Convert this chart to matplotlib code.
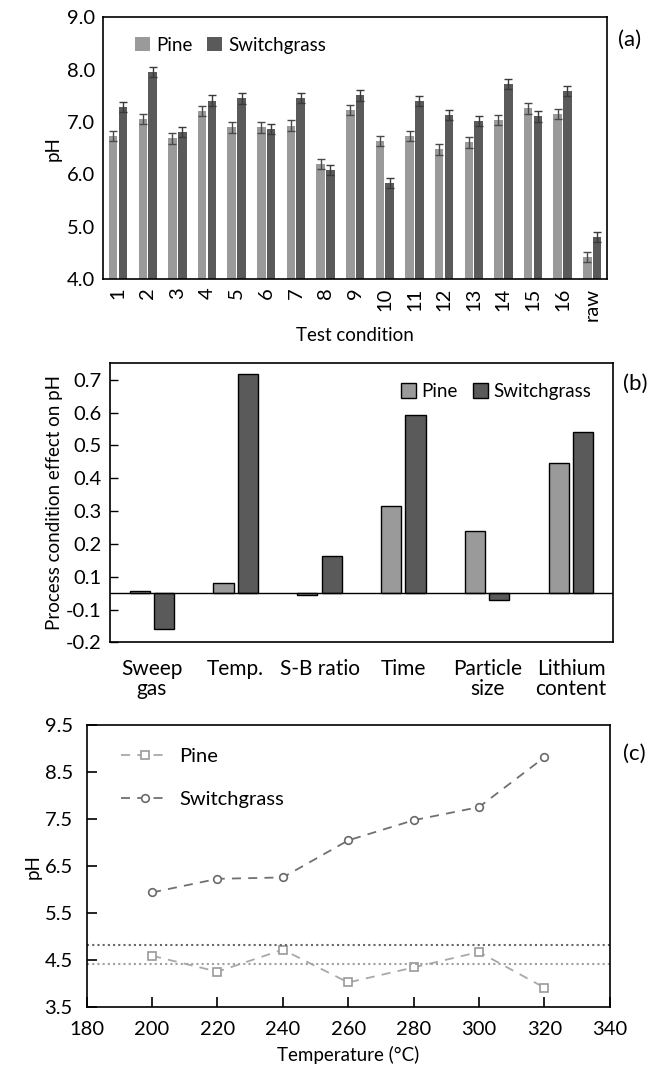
import matplotlib
matplotlib.use("Agg")
import matplotlib.pyplot as plt
import numpy as np

plt.rcParams['font.family'] = ['Lato', 'DejaVu Sans']
plt.rcParams['font.size'] = 12

# (a) pH of bio-oil per test condition
conditions = [str(i) for i in range(1, 17)] + ['raw']
pine_ph = [6.73, 7.06, 6.69, 7.21, 6.90, 6.90, 6.93, 6.20, 7.23, 6.64, 6.73, 6.48,
           6.61, 7.04, 7.26, 7.15, 4.42]
switch_ph = [7.29, 7.95, 6.81, 7.41, 7.45, 6.87, 7.46, 6.08, 7.51, 5.84, 7.40, 7.13,
             7.02, 7.73, 7.11, 7.59, 4.81]
pine_err = [0.1] * 17
switch_err = [0.1] * 17

# (b) process condition effects
factors = ['Sweep\ngas', 'Temp.', 'S-B ratio', 'Time', 'Particle\nsize', 'Lithium\ncontent']
pine_effect = [0.006, 0.032, -0.004, 0.266, 0.189, 0.396]
switch_effect = [-0.110, 0.666, 0.113, 0.542, -0.021, 0.492]
effect_ticks = [-0.15, -0.05, 0.05, 0.15, 0.25, 0.35, 0.45, 0.55, 0.65]
effect_ticklabels = ['-0.2', '-0.1', '0.1', '0.2', '0.3', '0.4', '0.5', '0.6', '0.7']

# (c) pH versus temperature
temps = [200, 220, 240, 260, 280, 300, 320]
pine_t = [4.59, 4.25, 4.72, 4.02, 4.34, 4.67, 3.91]
switch_t = [5.94, 6.23, 6.26, 7.05, 7.48, 7.76, 8.82]

PINE = '#9a9a9a'
SWITCH = '#5a5a5a'
TICK_FS = 14.5
LABEL_FS = 13.5
LEG_FS = 13.5

fig = plt.figure(figsize=(6.62, 10.78), dpi=100)

# ---------- panel (a) ----------
axa = fig.add_axes([0.156, 0.741, 0.761, 0.243])
x = np.arange(len(conditions))
w = 0.29
axa.bar(x - w / 2 - 0.02, pine_ph, w, color=PINE, yerr=pine_err,
        error_kw=dict(ecolor='#4a4a4a', capsize=3, elinewidth=1, capthick=1), label='Pine')
axa.bar(x + w / 2 + 0.02, switch_ph, w, color=SWITCH, yerr=switch_err,
        error_kw=dict(ecolor='#3a3a3a', capsize=3, elinewidth=1, capthick=1), label='Switchgrass')
axa.set_ylim(4.0, 9.0)
axa.set_xlim(-0.5, len(conditions) - 0.5)
axa.set_yticks(np.arange(4.0, 9.01, 1.0))
axa.set_yticklabels([f'{v:.1f}' for v in np.arange(4.0, 9.01, 1.0)], fontsize=TICK_FS)
axa.set_xticks(x)
axa.set_xticklabels(conditions, rotation=90, fontsize=TICK_FS)
axa.tick_params(length=0, pad=6)
axa.set_ylabel('pH', fontsize=LABEL_FS)
axa.set_xlabel('Test condition', fontsize=LABEL_FS, labelpad=5)
axa.legend(loc='upper left', frameon=False, ncol=2, fontsize=LEG_FS, handlelength=0.8,
           handleheight=0.8, handletextpad=0.3, columnspacing=0.8,
           bbox_to_anchor=(0.03, 0.99))
for s in axa.spines.values():
    s.set_linewidth(1.2)
fig.text(0.951, 0.963, '(a)', fontsize=16, ha='center', va='center')

# ---------- panel (b) ----------
axb = fig.add_axes([0.166, 0.404, 0.760, 0.259])
xb = np.arange(len(factors))
wb = 0.24
axb.bar(xb - wb / 2 - 0.025, pine_effect, wb, color=PINE, edgecolor='black',
        linewidth=1, label='Pine')
axb.bar(xb + wb / 2 + 0.025, switch_effect, wb, color=SWITCH, edgecolor='black',
        linewidth=1, label='Switchgrass')
axb.axhline(0, color='black', linewidth=1)
axb.set_ylim(-0.15, 0.70)
axb.set_xlim(-0.5, len(factors) - 0.5)
axb.set_yticks(effect_ticks)
axb.set_yticklabels(effect_ticklabels, fontsize=TICK_FS)
axb.set_xticks(xb)
axb.set_xticklabels(factors, fontsize=15, linespacing=1.0)
axb.tick_params(axis='y', direction='in', length=6, width=1, pad=6)
axb.tick_params(axis='x', length=0, pad=12)
axb.set_ylabel('Process condition effect on pH', fontsize=LABEL_FS, labelpad=2)
axb.legend(loc='upper right', frameon=False, ncol=2, fontsize=LEG_FS, handlelength=0.8,
           handleheight=0.8, handletextpad=0.3, columnspacing=0.8,
           bbox_to_anchor=(0.99, 0.99))
for s in axb.spines.values():
    s.set_linewidth(1.2)
fig.text(0.959, 0.644, '(b)', fontsize=16, ha='center', va='center')

# ---------- panel (c) ----------
axc = fig.add_axes([0.131, 0.066, 0.790, 0.261])
axc.plot(temps, pine_t, linestyle=(0, (5, 4)), color='#a8a8a8', linewidth=1.3,
         marker='s', markersize=5.5, markerfacecolor='white',
         markeredgecolor='#9a9a9a', markeredgewidth=1.2, label='Pine')
axc.plot(temps, switch_t, linestyle=(0, (5, 4)), color='#707070', linewidth=1.3,
         marker='o', markersize=5.5, markerfacecolor='white',
         markeredgecolor='#6a6a6a', markeredgewidth=1.2, label='Switchgrass')
axc.axhline(switch_ph[-1], color='#666666', linestyle=(0, (1, 1.5)), linewidth=1.5)
axc.axhline(pine_ph[-1], color='#a0a0a0', linestyle=(0, (1, 1.5)), linewidth=1.5)
axc.set_xlim(180, 340)
axc.set_ylim(3.5, 9.5)
axc.set_xticks(np.arange(180, 341, 20))
axc.set_yticks(np.arange(3.5, 9.51, 1.0))
axc.set_yticklabels([f'{v:.1f}' for v in np.arange(3.5, 9.51, 1.0)], fontsize=TICK_FS)
axc.set_xticklabels([str(v) for v in range(180, 341, 20)], fontsize=TICK_FS)
axc.tick_params(direction='in', length=7, width=1.2, pad=10)
axc.set_ylabel('pH', fontsize=LABEL_FS, labelpad=2)
axc.set_xlabel('Temperature (°C)', fontsize=LABEL_FS, labelpad=6)
axc.legend(loc='upper left', frameon=False, fontsize=14.5, handlelength=2.4,
           handletextpad=0.5, labelspacing=1.3, bbox_to_anchor=(0.03, 0.985))
for s in axc.spines.values():
    s.set_linewidth(1.2)
fig.text(0.958, 0.301, '(c)', fontsize=16, ha='center', va='center')

fig.savefig('out.png', dpi=100)
